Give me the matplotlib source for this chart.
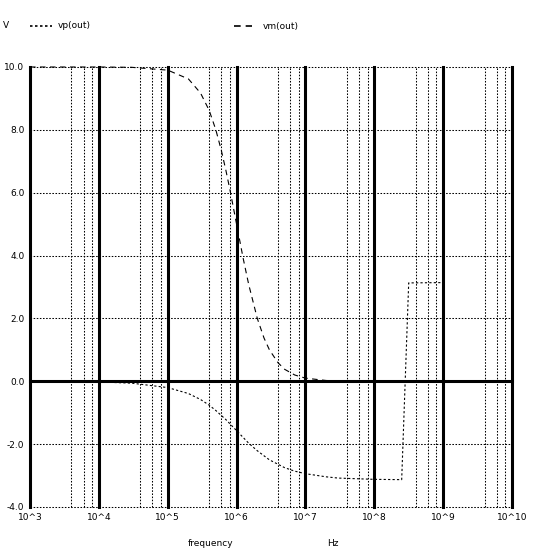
import matplotlib
matplotlib.use("Agg")
import matplotlib.pyplot as plt
from matplotlib.lines import Line2D

# data
freq_vm = [1e3, 1e4, 3e4, 1e5, 2e5, 3e5, 4e5, 5e5, 6e5, 7e5, 8e5, 1e6, 1.25e6, 1.5e6,
           2e6, 2.5e6, 3e6, 4e6, 5e6, 7e6, 1e7, 2e7, 3e7, 1e8, 1e9]
vm_out = [10.0, 10.0, 9.99, 9.90, 9.62, 9.17, 8.62, 8.0, 7.35, 6.71, 6.10, 5.0, 3.90, 3.08,
          2.0, 1.38, 1.0, 0.59, 0.38, 0.20, 0.10, 0.025, 0.011, 0.001, 0.0]

freq_vp = [1e3, 1e4, 3e4, 1e5, 2e5, 3e5, 4e5, 5e5, 7e5, 1e6, 1.5e6, 2e6, 3e6, 5e6,
           7e6, 1e7, 2e7, 3e7, 1e8, 2.5e8, 3.16e8, 1e9]
vp_out = [0.0, -0.02, -0.06, -0.20, -0.39, -0.58, -0.76, -0.93, -1.22, -1.57, -1.97,
          -2.21, -2.50, -2.75, -2.86, -2.94, -3.04, -3.08, -3.12, -3.13, 3.13, 3.14]

y_ticks = [-4, -2, 0, 2, 4, 6, 8, 10]
x_decades = [3, 4, 5, 6, 7, 8, 9, 10]

W = H = 558
fig = plt.figure(figsize=(5.58, 5.58), dpi=100)
ax = fig.add_axes([30 / W, 1 - 507 / H, 482 / W, 440 / H])
ax.set_xscale("log")
ax.set_xlim(1e3, 1e10)
ax.set_ylim(-4, 10)
for s in ax.spines.values():
    s.set_visible(False)
ax.minorticks_off()

# grid
for v in y_ticks:
    if v == 0:
        ax.axhline(v, color="black", lw=2.2, zorder=3, clip_on=False)
    else:
        ax.axhline(v, color="black", lw=0.75, ls=(0, (1.5, 1.5)), zorder=1, clip_on=False)
for d in x_decades:
    ax.axvline(10.0 ** d, color="black", lw=2.2, zorder=3, clip_on=False)
    if d < 10:
        for m in (4, 6, 8):
            ax.axvline(m * 10.0 ** d, color="black", lw=0.75, ls=(0, (1.5, 1.5)),
                       zorder=1, clip_on=False)

# curves
ax.plot(freq_vp, vp_out, color="black", lw=0.8, ls=(0, (2, 2)), zorder=2, clip_on=False)
ax.plot(freq_vm, vm_out, color="black", lw=0.8, ls=(0, (5, 4)), zorder=2, clip_on=False)

# tick labels
ax.set_yticks(y_ticks)
ax.set_yticklabels([f"{v:.1f}" for v in y_ticks], fontsize=6.5)
ax.set_xticks([10.0 ** d for d in x_decades])
ax.set_xticklabels([f"10^{d}" for d in x_decades], fontsize=6.5)
ax.tick_params(length=0, pad=4)

# axis titles
fig.text(211 / W, 1 - 543 / H, "frequency", fontsize=6.5, ha="center", va="center")
fig.text(333 / W, 1 - 543 / H, "Hz", fontsize=6.5, ha="center", va="center")

# header / legend
fig.text(3 / W, 1 - 26 / H, "V", fontsize=6.5, ha="left", va="center")
fig.lines.append(Line2D([30 / W, 52 / W], [1 - 26 / H, 1 - 26 / H], transform=fig.transFigure,
                        color="black", lw=1.2, ls=(0, (1.5, 1.5))))
fig.text(58 / W, 1 - 26 / H, "vp(out)", fontsize=6.5, ha="left", va="center")
fig.lines.append(Line2D([234 / W, 252 / W], [1 - 26 / H, 1 - 26 / H], transform=fig.transFigure,
                        color="black", lw=1.2, ls=(0, (4, 3))))
fig.text(263 / W, 1 - 26 / H, "vm(out)", fontsize=6.5, ha="left", va="center")

fig.savefig("out.png", dpi=100, facecolor="white")
